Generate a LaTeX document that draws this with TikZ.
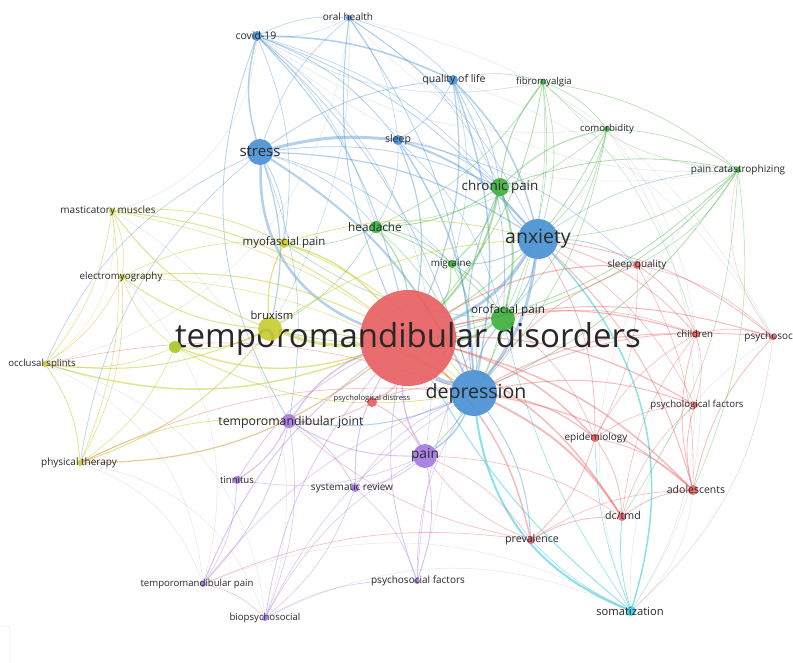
\documentclass[tikz,border=0pt]{standalone}
\usepackage{fontspec}
\setmainfont{Open Sans}
\pgfdeclarelayer{edges}
\pgfsetlayers{edges,main}
\definecolor{tred}{RGB}{232,96,98}
\definecolor{tblue}{RGB}{74,146,212}
\definecolor{tgreen}{RGB}{62,176,62}
\definecolor{tyel}{RGB}{200,204,52}
\definecolor{tyg}{RGB}{168,200,40}
\definecolor{tpur}{RGB}{166,122,226}
\definecolor{tcyan}{RGB}{60,206,226}
\definecolor{tgray}{RGB}{170,182,195}
\definecolor{labc}{RGB}{40,40,40}
\newcommand{\kw}[9]{%
  \node[kdot, fill=#5, minimum size=#4*2] (#1) at (#2,#3) {};
  \node[klab, font=\fontsize{#8}{#8}\selectfont] (#1L) at (#6,#7) {#9};}
\begin{document}
\begin{tikzpicture}[x=1pt,y=-1pt,
  kdot/.style={circle, inner sep=0pt, draw=none, fill opacity=0.92},
  klab/.style={inner sep=0pt, text=labc},
  edge/.style={line width=0.6pt, draw opacity=0.42, line cap=round},
  arc/.style={line width=0.5pt, draw opacity=0.32, line cap=round}]
\useasboundingbox (0,0) rectangle (793,662);
% nodes
\kw{tmd}{408}{338}{48}{tred}{408}{339}{33}{temporomandibular disorders}
\kw{dep}{474}{393}{23}{tblue}{476}{393}{19.5}{depression}
\kw{anx}{538}{239}{20}{tblue}{538}{239}{19.5}{anxiety}
\kw{str}{260}{152}{13}{tblue}{260}{152}{15}{stress}
\kw{chp}{500}{187}{9}{tgreen}{500}{187}{13.4}{chronic pain}
\kw{oro}{503}{319}{12}{tgreen}{508}{310}{11.7}{orofacial pain}
\kw{bru}{270}{329}{12}{tyel}{272}{315.5}{11.2}{bruxism}
\kw{pain}{425}{456}{12}{tpur}{425}{455}{13.7}{pain}
\kw{tmj}{289}{421}{7}{tpur}{291}{422}{12.3}{temporomandibular joint}
\kw{hea}{376}{227}{6}{tgreen}{375}{227}{11.8}{headache}
\kw{myo}{284}{243}{5}{tyel}{284}{243}{11.4}{myofascial pain}
\kw{mig}{452}{264}{4}{tgreen}{451}{264}{9.8}{migraine}
\kw{mas}{112}{211}{3}{tyel}{108}{211}{10}{masticatory muscles}
\kw{emg}{122}{277}{3}{tyel}{121}{277}{9.8}{electromyography}
\kw{occ}{45}{364}{3}{tyel}{42}{364}{9.6}{occlusal splints}
\kw{phy}{80}{463}{3}{tyel}{79}{463}{10}{physical therapy}
\kw{tin}{237}{480}{4}{tpur}{237}{480}{9.6}{tinnitus}
\kw{sys}{355}{488}{4}{tpur}{352}{488}{10}{systematic review}
\kw{tmp}{203}{584}{3}{tpur}{197}{584}{9.6}{temporomandibular pain}
\kw{bio}{265}{618}{3}{tpur}{265}{618}{9.6}{biopsychosocial}
\kw{psf}{417}{581}{3}{tpur}{418}{581}{10}{psychosocial factors}
\kw{som}{631}{611}{5}{tcyan}{630}{611}{11.2}{somatization}
\kw{pre}{531}{540}{4}{tred}{532}{540}{10.6}{prevalence}
\kw{dct}{622}{517}{4}{tred}{623}{516}{10.6}{dc/tmd}
\kw{ado}{693}{490}{5}{tred}{696}{490}{10.5}{adolescents}
\kw{epi}{595}{438}{4}{tred}{596}{438}{10}{epidemiology}
\kw{psy}{695}{405}{3}{tred}{697}{405}{9.6}{psychological factors}
\kw{chi}{696}{334}{4}{tred}{695}{334}{9.6}{children}
\kw{psc}{773}{337}{3}{tred}{774}{337}{10}{psychosocial}
\kw{slq}{637}{265}{4}{tred}{637}{265}{10}{sleep quality}
\kw{pct}{738}{170}{3}{tgreen}{738}{170}{10}{pain catastrophizing}
\kw{com}{607}{129}{3}{tgreen}{607}{129}{9.6}{comorbidity}
\kw{fib}{543}{82}{3}{tgreen}{544}{82}{9.6}{fibromyalgia}
\kw{qol}{453}{80}{5}{tblue}{454}{80}{10.5}{quality of life}
\kw{slp}{398}{140}{5}{tblue}{398}{140}{10.5}{sleep}
\kw{ora}{349}{18}{3}{tblue}{348}{17}{10}{oral health}
\kw{cov}{257}{36}{5}{tblue}{256}{36}{10.5}{covid-19}
\kw{psd}{372}{402}{5}{tred}{372}{399}{7.6}{psychological distress}
\node[kdot, fill=tyg, minimum size=12] (ylw) at (175,347) {};
\begin{pgfonlayer}{edges}
\fill[white] (0,0) rectangle (793,662);
\draw[gray!25, rounded corners=3pt] (-10,626) rectangle (10,672);
% blue
\foreach \a/\b/\w in {str/cov/1.5, str/dep/2, str/anx/1.2, str/qol/0.8, str/bru/1.2, str/myo/0.8, str/chp/0.8, str/hea/0.6, str/ora/0.6, str/mig/0.6, str/tmj/0.6,
 cov/anx/0.8, cov/dep/0.8, cov/slp/0.8, cov/ora/0.6, cov/tmd/1, cov/chp/0.6, cov/myo/0.6, cov/hea/0.5,
 ora/qol/0.6, ora/anx/0.6, ora/dep/0.8, ora/slp/0.5, ora/chp/0.5,
 qol/anx/1.5, qol/dep/1.5, qol/tmd/1.2, qol/chp/0.8, qol/slp/0.6, qol/fib/0.6, qol/oro/0.8, qol/mig/0.5,
 slp/anx/2, slp/dep/1.5, slp/tmd/1.2, slp/chp/0.8, slp/slq/0.6, slp/hea/0.6, slp/oro/0.6,
 anx/dep/3, anx/tmd/3, anx/chp/1.2, anx/oro/1.2, anx/slq/0.8, anx/pct/0.6, anx/mig/1,
 dep/tmd/4, dep/pain/1.5, dep/pre/1, dep/oro/1.2, dep/chp/1, dep/tmj/1}
 {\draw[edge, draw=tblue, line width=\w] (\a) to[bend left=15] (\b);}
\draw[edge, draw=tblue, line width=3] (str) to[bend left=10] (slp);
\draw[edge, draw=tblue, line width=2.5] (str) to[bend right=35] (tmd);
\draw[edge, draw=tblue, line width=1.6] (cov) to[bend left=12] (qol);
\draw[edge, draw=tblue, line width=1] (ora) to[bend right=15] (tmd);
\draw[edge, draw=tblue, line width=0.8] (cov) to[bend right=25] (tmj);
\draw[edge, draw=tblue, line width=0.6] (str) to[bend right=20] (occ);
\draw[edge, draw=tblue, line width=0.6] (str) to[bend right=20] (phy);
% cyan
\draw[edge, draw=tcyan, line width=2, draw opacity=0.6] (dep) to[bend right=30] (som);
\draw[edge, draw=tcyan, line width=1.5, draw opacity=0.6] (anx) to[bend left=30] (som);
\foreach \a/\b/\w in {som/tmd/1, som/dct/0.8, som/pre/0.6, som/epi/0.6, som/oro/0.6}
 {\draw[edge, draw=tcyan, line width=\w, draw opacity=0.55] (\a) to[bend left=10] (\b);}
% green
\foreach \a/\b/\w in {chp/fib/1, chp/com/1, chp/pct/0.8, chp/tmd/2, chp/oro/2, chp/hea/1, chp/mig/1,
 fib/com/0.6, fib/pct/0.6, fib/anx/0.6, fib/tmd/0.8, fib/hea/0.6, fib/oro/0.6, fib/dep/0.5,
 com/pct/0.6, com/tmd/0.8, com/anx/0.6, com/dep/0.6, com/oro/0.6, com/hea/0.5,
 pct/tmd/0.8, pct/oro/0.8, pct/anx/0.6, pct/dep/0.8, pct/ado/0.5, pct/slq/0.5, pct/dct/0.5,
 hea/tmd/1.2, hea/mig/0.8, hea/oro/0.8, hea/myo/0.6, hea/bru/0.6, hea/dep/0.6,
 mig/tmd/1, mig/oro/0.8, mig/dep/0.6, oro/tmd/2.5, oro/pain/0.8, oro/bru/0.8, oro/myo/0.6}
 {\draw[edge, draw=tgreen, line width=\w] (\a) to[bend left=15] (\b);}
% yellow
\foreach \a/\b/\w in {bru/mas/1, bru/emg/1, bru/occ/1, bru/phy/1, bru/myo/1.2, bru/dep/1, bru/anx/0.8, bru/ylw/1,
 mas/emg/0.6, mas/myo/0.8, mas/occ/0.6, mas/tmd/1, mas/phy/0.6, mas/dep/0.6,
 emg/occ/0.6, emg/tmd/1, emg/myo/0.6, emg/phy/0.6, emg/dep/0.5,
 occ/phy/0.8, phy/tmj/0.8,
 myo/tmd/1.5, myo/dep/0.8, myo/anx/0.8, ylw/occ/0.6, ylw/phy/0.6, ylw/emg/0.6}
 {\draw[edge, draw=tyel, line width=\w, draw opacity=0.55] (\a) to[bend left=15] (\b);}
\draw[edge, draw=tyel, line width=3, draw opacity=0.55] (bru) to[bend right=12] (tmd);
\draw[edge, draw=tyel, line width=1.4, draw opacity=0.55] (occ) to[bend right=18] (tmd);
\draw[edge, draw=tyel!60!tred, line width=1.2, draw opacity=0.55] (phy) to[bend right=18] (tmd);
\draw[edge, draw=tyel, line width=1.4, draw opacity=0.55] (ylw) to[bend right=18] (tmd);
\draw[edge, draw=tyel, line width=0.8, draw opacity=0.55] (ylw) to[bend right=18] (dep);
% purple
\foreach \a/\b/\w in {pain/tmd/1.5, pain/tmj/1, pain/sys/0.8, pain/psf/0.8, pain/tin/0.6,
 tmj/tmd/1.5, tmj/tin/1.2, tmj/sys/0.8, tmj/tmp/0.8, tmj/bio/0.6,
 tin/tmd/0.8, tin/tmp/0.6, sys/tmd/1, sys/bio/0.6, sys/psf/0.6, sys/dep/0.6,
 tmp/tmd/1, tmp/bio/0.6, tmp/dep/0.6, bio/tmd/0.8, bio/dep/0.6, bio/pain/0.6, bio/psf/0.6,
 psf/tmd/0.8, psf/dep/0.6, psf/anx/0.6}
 {\draw[edge, draw=tpur, line width=\w] (\a) to[bend left=15] (\b);}
% red
\foreach \a/\b/\w in {tmd/psd/1.2, tmd/epi/1.5, tmd/pre/1.5, tmd/dct/1.5, tmd/ado/1.5, tmd/psy/1.2, tmd/chi/1.2, tmd/psc/1, tmd/slq/1.2,
 dep/epi/1.2, dep/dct/2, dep/ado/1.2, dep/psy/1, dep/chi/1, dep/psc/0.8, dep/slq/0.8,
 anx/chi/0.8, anx/psc/0.8, anx/ado/1, anx/epi/0.8, anx/psy/0.6,
 epi/pre/0.8, epi/dct/0.8, epi/ado/0.8, epi/chi/0.6, epi/psy/0.6, pre/dct/0.8, pre/ado/0.6,
 dct/ado/0.8, dct/chi/0.6, dct/psy/0.6, ado/chi/0.8, ado/psc/0.8, ado/psy/0.8,
 chi/psc/0.6, chi/psy/0.6, slq/psc/0.6, slq/chi/0.8, slq/ado/0.6, slq/epi/0.6,
 psd/tmj/0.8, psd/dep/0.8, psd/pain/0.8, pre/tmj/0.6, pre/pain/0.6, tmp/pre/0.6, occ/dep/0.6, phy/dep/0.6,
 oro/chi/0.6, oro/epi/0.6, pain/dct/0.6, pain/pre/0.6}
 {\draw[edge, draw=tred, line width=\w] (\a) to[bend left=15] (\b);}
% outer arcs
\foreach \a/\b/\c/\k in {cov/mas/tgray/35, mas/occ/tyel/30, occ/tmp/tgray/30, phy/bio/tgray/30,
 tmp/som/tgray/25, bio/som/tgray/25, som/psc/tgray/30, som/pct/tgray/35, psc/pct/tred/25,
 pct/fib/tgreen/20, pct/ora/tgray/25, fib/cov/tblue/20, com/cov/tgray/20, ora/cov/tblue/15,
 ora/occ/tgray/35, cov/pain/tblue/30, ora/bru/tblue/15, cov/psf/tgray/35, qol/psc/tgray/20,
 fib/chi/tgreen/15, com/psy/tgray/15, mas/bio/tgray/40, emg/tmp/tgray/30,
 pct/cov/tgray/25, ado/som/tgray/20, psc/som/tred/20, phy/tmp/tgray/25, occ/bio/tgray/35,
 psy/som/tgray/15, chi/som/tgray/20, ora/psc/tgray/25, com/chi/tgray/15}
 {\draw[arc, draw=\c] (\a) to[bend left=\k] (\b);}
\end{pgfonlayer}
\end{tikzpicture}
\end{document}
